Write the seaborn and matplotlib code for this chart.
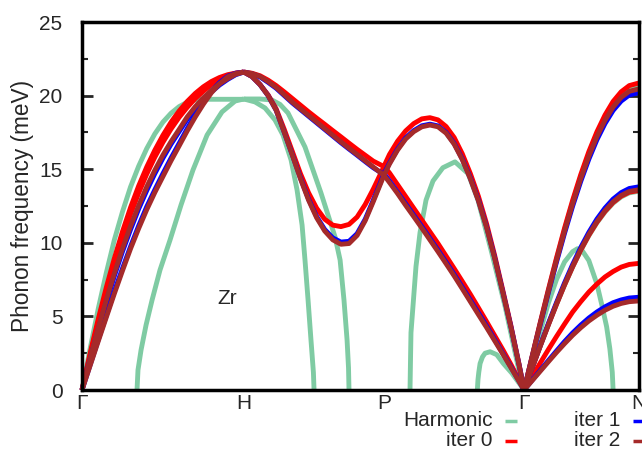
import matplotlib
matplotlib.use("Agg")
import matplotlib.pyplot as plt
from matplotlib.lines import Line2D
import pandas as pd
import seaborn as sns

# ---------------- data (phonon bands of bcc Zr, meV) ----------------
KPOINT_POS = [0.0, 1.0, 1.866, 2.732, 3.439]
KPOINT_LABELS = ["Γ", "H", "P", "Γ", "N"]
SERIES = ["Harmonic", "iter 0", "iter 1", "iter 2"]

# Gamma - H
Q_GH = [0.0, 0.05, 0.1, 0.15, 0.2, 0.25, 0.3, 0.35, 0.4, 0.45, 0.5,
        0.55, 0.6, 0.65, 0.7, 0.75, 0.8, 0.85, 0.9, 0.95, 1.0]
HARM_GH_A = [0.0, 2.8, 5.5, 7.95, 10.2, 12.1, 13.8, 15.2, 16.4, 17.4, 18.2,
             18.8, 19.25, 19.55, 19.7, 19.75, 19.75, 19.75, 19.75, 19.75, 19.75]
HARM_GH_B_Q = [0.340, 0.346, 0.365, 0.396, 0.433, 0.482, 0.544, 0.612, 0.686, 0.773, 0.865, 0.946, 1.0]
HARM_GH_B = [0.0, 1.36, 2.72, 4.42, 6.11, 8.15, 10.19, 12.57, 14.95, 17.32, 18.89, 19.63, 19.77]
ITER0_GH_T = [0.0, 2.48, 4.8, 6.96, 8.95, 10.76, 12.4, 13.86, 15.15, 16.29, 17.3,
              18.19, 18.95, 19.6, 20.15, 20.6, 20.96, 21.23, 21.42, 21.53, 21.6]
ITER0_GH_L = [0.0, 2.36, 4.58, 6.66, 8.58, 10.34, 11.95, 13.38, 14.67, 15.82, 16.83,
              17.73, 18.52, 19.2, 19.8, 20.3, 20.75, 21.1, 21.35, 21.52, 21.6]
ITER1_GH_T = [0.0, 2.1, 4.1, 5.95, 7.75, 9.4, 10.9, 12.3, 13.55, 14.7, 15.75,
              16.7, 17.55, 18.4, 19.1, 19.7, 20.25, 20.72, 21.1, 21.42, 21.6]
ITER1_GH_L = [0.0, 1.7, 3.4, 5.05, 6.7, 8.25, 9.75, 11.15, 12.45, 13.6, 14.7,
              15.75, 16.75, 17.75, 18.7, 19.55, 20.3, 20.88, 21.32, 21.52, 21.6]
ITER2_GH_T = [0.0, 2.16, 4.2, 6.1, 7.92, 9.6, 11.13, 12.52, 13.8, 14.93, 15.96,
              16.87, 17.7, 18.55, 19.25, 19.85, 20.35, 20.8, 21.15, 21.45, 21.6]
ITER2_GH_L = [0.0, 1.65, 3.3, 4.93, 6.55, 8.1, 9.6, 10.97, 12.25, 13.42, 14.5,
              15.57, 16.58, 17.6, 18.55, 19.42, 20.2, 20.8, 21.28, 21.5, 21.6]

# H - P
Q_HP = [1.0, 1.05, 1.1, 1.15, 1.2, 1.25, 1.3, 1.35, 1.4, 1.45, 1.5,
        1.55, 1.6, 1.65, 1.7, 1.75, 1.8, 1.85, 1.866]
HARM_HP_A_Q = [1.0, 1.100, 1.174, 1.224, 1.273, 1.378, 1.477, 1.564, 1.595, 1.619, 1.638, 1.647, 1.650]
HARM_HP_A = [19.77, 19.77, 19.7, 19.4, 18.82, 16.51, 13.38, 10.39, 8.83, 6.11, 3.40, 1.5, 0.0]
HARM_HP_B_Q = [1.0, 1.069, 1.131, 1.193, 1.242, 1.292, 1.329, 1.360, 1.378, 1.397, 1.415, 1.430, 1.434]
HARM_HP_B = [19.77, 19.57, 19.16, 18.34, 17.32, 15.63, 13.59, 11.21, 8.83, 6.11, 3.40, 1.2, 0.0]
ITER0_HP_L = [21.6, 21.3, 20.75, 20.05, 19.1, 17.7, 16.2, 14.7, 13.4, 12.35, 11.6,
              11.2, 11.1, 11.25, 11.75, 12.6, 13.65, 14.8, 15.2]
ITER1_HP_L = [21.6, 21.3, 20.75, 20.0, 19.0, 17.5, 15.97, 14.4, 12.97, 11.78, 10.9,
              10.33, 10.05, 10.1, 10.62, 11.6, 12.9, 14.25, 14.7]
ITER2_HP_L = [21.6, 21.3, 20.75, 20.0, 19.0, 17.5, 15.95, 14.35, 12.9, 11.7, 10.8,
              10.2, 9.9, 9.95, 10.5, 11.5, 12.8, 14.15, 14.6]
ITER0_HP_T = [21.6, 21.52, 21.35, 21.05, 20.68, 20.25, 19.8, 19.35, 18.9, 18.47, 18.05,
              17.62, 17.2, 16.77, 16.35, 15.95, 15.55, 15.27, 15.2]
ITER1_HP_T = [21.6, 21.48, 21.27, 20.9, 20.5, 20.0, 19.5, 19.05, 18.6, 18.15, 17.7,
              17.25, 16.8, 16.37, 15.95, 15.52, 15.1, 14.75, 14.7]
ITER2_HP_T = [21.6, 21.5, 21.3, 20.95, 20.55, 20.05, 19.55, 19.1, 18.65, 18.2, 17.75,
              17.3, 16.85, 16.42, 16.0, 15.57, 15.15, 14.72, 14.6]

# P - Gamma
Q_PG = [1.866, 1.9, 1.95, 2.0, 2.05, 2.1, 2.15, 2.2, 2.25, 2.3, 2.35,
        2.4, 2.45, 2.5, 2.55, 2.6, 2.65, 2.7, 2.732]
HARM_PG_C_Q = [2.027, 2.030, 2.033, 2.064, 2.089, 2.126, 2.169, 2.23, 2.305, 2.386, 2.447, 2.528, 2.615, 2.695, 2.732]
HARM_PG_C = [0.0, 2.0, 3.9, 8.4, 10.7, 12.9, 14.2, 15.1, 15.5, 14.7, 12.9, 9.5, 5.66, 1.6, 0.0]
HARM_PG_D_Q = [2.443, 2.447, 2.452, 2.46, 2.475, 2.491, 2.522, 2.563, 2.604, 2.656, 2.732]
HARM_PG_D = [0.0, 0.7, 1.2, 1.8, 2.25, 2.5, 2.6, 2.4, 1.8, 1.15, 0.0]
ITER0_PG_L = [15.2, 16.0, 16.9, 17.6, 18.1, 18.42, 18.5, 18.35, 17.9, 17.15, 16.05,
              14.7, 13.15, 11.3, 9.15, 6.8, 4.4, 1.8, 0.0]
ITER1_PG_L = [14.7, 15.42, 16.37, 17.12, 17.62, 17.95, 18.06, 17.94, 17.5, 16.75, 15.7,
              14.4, 12.9, 11.1, 9.0, 6.68, 4.32, 1.76, 0.0]
ITER2_PG_L = [14.6, 15.35, 16.3, 17.05, 17.55, 17.88, 18.0, 17.88, 17.45, 16.7, 15.65,
              14.35, 12.85, 11.05, 8.95, 6.65, 4.3, 1.75, 0.0]
ITER0_PG_T = [15.2, 14.75, 13.95, 13.15, 12.35, 11.55, 10.75, 9.95, 9.1, 8.25, 7.38,
              6.5, 5.58, 4.65, 3.7, 2.75, 1.75, 0.7, 0.0]
ITER1_PG_T = [14.7, 14.2, 13.43, 12.65, 11.88, 11.1, 10.3, 9.5, 8.68, 7.85, 6.98,
              6.1, 5.23, 4.35, 3.43, 2.5, 1.57, 0.62, 0.0]
ITER2_PG_T = [14.6, 14.1, 13.35, 12.55, 11.78, 11.0, 10.2, 9.4, 8.58, 7.75, 6.88,
              6.0, 5.12, 4.25, 3.35, 2.45, 1.53, 0.6, 0.0]

# Gamma - N
Q_GN = [2.732, 2.782, 2.832, 2.882, 2.932, 2.982, 3.032, 3.082, 3.132, 3.182,
        3.232, 3.282, 3.332, 3.382, 3.439]
HARM_GN_TOP = [0.0, 2.29, 4.55, 6.76, 8.88, 10.89, 12.77, 14.49, 16.03, 17.37, 18.5, 19.41, 20.07, 20.49, 20.65]
HARM_GN_MID = [0.0, 1.5, 2.98, 4.42, 5.8, 7.12, 8.35, 9.47, 10.48, 11.36, 12.09, 12.69, 13.12, 13.39, 13.5]
HARM_GN_E_Q = [2.732, 2.782, 2.832, 2.882, 2.932, 2.982, 3.032, 3.062, 3.092, 3.132, 3.182, 3.212, 3.242, 3.262, 3.277, 3.282]
HARM_GN_E = [0.0, 2.0, 4.0, 5.9, 7.5, 8.7, 9.4, 9.6, 9.45, 8.8, 7.2, 5.8, 4.3, 2.8, 1.2, 0.0]
ITER0_GN_TOP = [0.0, 2.31, 4.6, 6.82, 8.96, 11.0, 12.89, 14.63, 16.19, 17.54, 18.68, 19.6, 20.26, 20.68, 20.85]
ITER1_GN_TOP = [0.0, 2.24, 4.45, 6.61, 8.68, 10.65, 12.49, 14.17, 15.68, 17.0, 18.1, 18.99, 19.63, 20.04, 20.2]
ITER2_GN_TOP = [0.0, 2.27, 4.51, 6.69, 8.79, 10.79, 12.65, 14.35, 15.88, 17.21, 18.32, 19.22, 19.88, 20.29, 20.45]
ITER0_GN_MID = [0.0, 1.5, 2.99, 4.43, 5.82, 7.15, 8.38, 9.51, 10.52, 11.4, 12.14, 12.74, 13.17, 13.44, 13.55]
ITER1_GN_MID = [0.0, 1.53, 3.04, 4.52, 5.93, 7.28, 8.53, 9.68, 10.71, 11.61, 12.36, 12.97, 13.41, 13.69, 13.8]
ITER2_GN_MID = [0.0, 1.51, 3.0, 4.45, 5.85, 7.17, 8.41, 9.54, 10.56, 11.44, 12.18, 12.78, 13.22, 13.49, 13.6]
ITER0_GN_LOW = [0.0, 0.92, 1.84, 2.75, 3.63, 4.48, 5.3, 6.0, 6.65, 7.2, 7.68, 8.05, 8.35, 8.53, 8.6]
ITER1_GN_LOW = [0.0, 0.67, 1.34, 2.0, 2.65, 3.29, 3.88, 4.41, 4.89, 5.3, 5.65, 5.93, 6.12, 6.25, 6.3]
ITER2_GN_LOW = [0.0, 0.64, 1.28, 1.92, 2.55, 3.15, 3.72, 4.23, 4.69, 5.08, 5.42, 5.69, 5.88, 6.0, 6.05]

COLORS = {"Harmonic": "#7fcba3", "iter 0": "#ff0000", "iter 1": "#0000ff", "iter 2": "#a52a2a"}

CURVES = [
    ("Harmonic", Q_GH, HARM_GH_A), ("Harmonic", HARM_GH_B_Q, HARM_GH_B),
    ("Harmonic", HARM_HP_A_Q, HARM_HP_A), ("Harmonic", HARM_HP_B_Q, HARM_HP_B),
    ("Harmonic", HARM_PG_C_Q, HARM_PG_C), ("Harmonic", HARM_PG_D_Q, HARM_PG_D),
    ("Harmonic", Q_GN, HARM_GN_TOP), ("Harmonic", Q_GN, HARM_GN_MID),
    ("Harmonic", HARM_GN_E_Q, HARM_GN_E),
    ("iter 0", Q_GH, ITER0_GH_T), ("iter 0", Q_GH, ITER0_GH_L),
    ("iter 0", Q_HP, ITER0_HP_T), ("iter 0", Q_HP, ITER0_HP_L),
    ("iter 0", Q_PG, ITER0_PG_T), ("iter 0", Q_PG, ITER0_PG_L),
    ("iter 0", Q_GN, ITER0_GN_TOP), ("iter 0", Q_GN, ITER0_GN_MID), ("iter 0", Q_GN, ITER0_GN_LOW),
    ("iter 1", Q_GH, ITER1_GH_T), ("iter 1", Q_GH, ITER1_GH_L),
    ("iter 1", Q_HP, ITER1_HP_T), ("iter 1", Q_HP, ITER1_HP_L),
    ("iter 1", Q_PG, ITER1_PG_T), ("iter 1", Q_PG, ITER1_PG_L),
    ("iter 1", Q_GN, ITER1_GN_TOP), ("iter 1", Q_GN, ITER1_GN_MID), ("iter 1", Q_GN, ITER1_GN_LOW),
    ("iter 2", Q_GH, ITER2_GH_T), ("iter 2", Q_GH, ITER2_GH_L),
    ("iter 2", Q_HP, ITER2_HP_T), ("iter 2", Q_HP, ITER2_HP_L),
    ("iter 2", Q_PG, ITER2_PG_T), ("iter 2", Q_PG, ITER2_PG_L),
    ("iter 2", Q_GN, ITER2_GN_TOP), ("iter 2", Q_GN, ITER2_GN_MID), ("iter 2", Q_GN, ITER2_GN_LOW),
]

rows = []
for cid, (ser, qs, fs) in enumerate(CURVES):
    for q, f in zip(qs, fs):
        rows.append({"series": ser, "curve": cid, "q": q, "f": f})
df = pd.DataFrame(rows)

# ---------------- plot ----------------
sns.set_theme(style="white")
plt.rcParams["font.family"] = ["Liberation Sans", "DejaVu Sans"]
FS = 15

fig = plt.figure(figsize=(6.42, 4.5), dpi=100)
ax = fig.add_axes([82 / 642, 60 / 450, (638.5 - 82) / 642, (390 - 22) / 450])

for ser in SERIES:
    sub = df[df["series"] == ser]
    sns.lineplot(data=sub, x="q", y="f", units="curve", estimator=None, sort=False,
                 color=COLORS[ser], lw=3.5, ax=ax, legend=False, clip_on=False,
                 solid_capstyle="butt", solid_joinstyle="round")

ax.set_xlim(KPOINT_POS[0], KPOINT_POS[-1])
ax.set_ylim(0, 25)
ax.set_xticks(KPOINT_POS)
ax.set_xticklabels(KPOINT_LABELS, fontsize=FS)
ax.set_yticks([0, 5, 10, 15, 20, 25])
ax.set_yticks([2.5, 7.5, 12.5, 17.5, 22.5], minor=True)
ax.tick_params(axis="y", which="major", direction="in", length=8, width=2,
               left=True, right=True, labelsize=FS, pad=14)
ax.tick_params(axis="y", which="minor", direction="in", length=4, width=1.5,
               left=True, right=True)
ax.tick_params(axis="x", length=0, pad=3)
for sp in ax.spines.values():
    sp.set_linewidth(2.5)
    sp.set_color("black")
    sp.set_zorder(5)
ax.set_xlabel("")
ax.set_ylabel("Phonon frequency (meV)", fontsize=16.3, labelpad=4)
ax.text(0.9, 6.25, "Zr", fontsize=FS, ha="center", va="center")

# gnuplot-style legend below the plot
LEG_POS = [(493, 421, 505), (493, 441, 505), (620, 421, 633), (620, 441, 633)]
for ser, (tx, ty, lx) in zip(SERIES, LEG_POS):
    fig.text(tx / 642, 1 - ty / 450, ser, fontsize=FS, ha="right", va="center")
    fig.add_artist(Line2D([lx / 642, (lx + 12) / 642], [1 - ty / 450, 1 - ty / 450],
                          transform=fig.transFigure, color=COLORS[ser], lw=2.5,
                          solid_capstyle="butt"))

fig.savefig("out.png", dpi=100)
